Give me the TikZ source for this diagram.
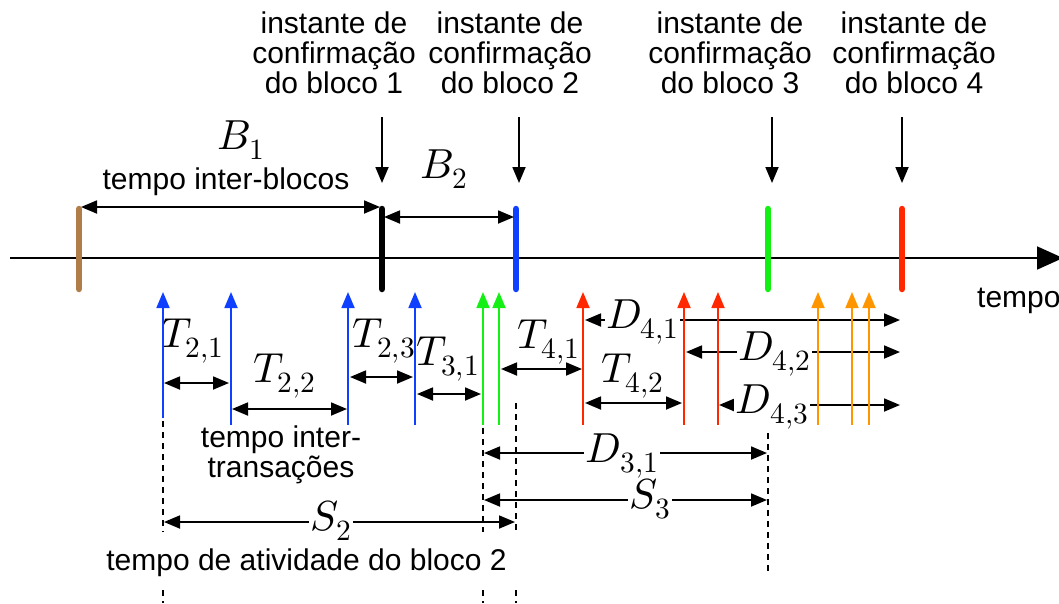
\documentclass[tikz,border=0pt]{standalone}
\usepackage{fontspec}
\usepackage{unicode-math}
\setmainfont{Liberation Sans}
\setmathfont{Latin Modern Math}
\usetikzlibrary{arrows.meta}

\definecolor{bbrown}{RGB}{176,125,72}
\definecolor{bblue}{RGB}{16,64,255}
\definecolor{bgreen}{RGB}{20,240,20}
\definecolor{bred}{RGB}{255,40,0}
\definecolor{borange}{RGB}{255,150,0}

\begin{document}
\begin{tikzpicture}[x=1pt,y=-1pt,
  >={Triangle[length=16pt,width=13pt]},
  txt/.style={font=\fontsize{30}{30}\selectfont, inner sep=0pt},
  lbl/.style={font=\fontsize{42}{46}\selectfont, inner sep=0pt, anchor=base},
  cut/.style={lbl, fill=white, inner xsep=1.5pt},
  dim/.style={<->, line width=1.8pt},
  arr/.style={->, line width=1.8pt},
  blockbar/.style={line width=6.5pt, line cap=round},
  guide/.style={dash pattern=on 6pt off 5pt, line width=1.5pt}
]
\useasboundingbox (0,0) rectangle (1059,603);

% time axis
\coordinate (ax0) at (10,258);
\coordinate (ax1) at (1063,258);
\draw[line width=1.8pt, -{Triangle[length=26pt,width=23pt]}] (ax0) -- (ax1);
\node[txt, anchor=base west] (tempo) at (977,307) {tempo};

% block confirmation marks
\draw[blockbar, bbrown] (79,209) coordinate (b0t) -- (79,289) coordinate (b0);
\draw[blockbar, black]  (382,209) coordinate (b1t) -- (382,289) coordinate (b1);
\draw[blockbar, bblue]  (516,209) coordinate (b2t) -- (516,289) coordinate (b2);
\draw[blockbar, bgreen] (768,209) coordinate (b3t) -- (768,289) coordinate (b3);
\draw[blockbar, bred]   (902,209) coordinate (b4t) -- (902,289) coordinate (b4);

% confirmation labels
\node[txt, anchor=north, align=center] (c1) at (334,11.5) {instante de\\confirmação\\do bloco 1};
\node[txt, anchor=north, align=center] (c2) at (510,11.5) {instante de\\confirmação\\do bloco 2};
\node[txt, anchor=north, align=center] (c3) at (730,11.5) {instante de\\confirmação\\do bloco 3};
\node[txt, anchor=north, align=center] (c4) at (914,11.5) {instante de\\confirmação\\do bloco 4};
\draw[arr] (382,117) -- (382,183);
\draw[arr] (519,117) -- (519,183);
\draw[arr] (772,117) -- (772,183);
\draw[arr] (902,117) -- (902,183);

% inter-block times
\draw[dim] (81,207) -- (380,207);
\node[lbl] (B1) at (241,149) {$B_1$};
\node[txt, anchor=base] (ib) at (226,189) {tempo inter-blocos};
\draw[dim] (384,217) -- (514,217);
\node[lbl] (B2) at (444,178) {$B_2$};

% guide lines
\draw[guide] (163,421) -- (163,532);
\draw[guide] (163,590) -- (163,603);
\draw[guide] (483,428) -- (483,532);
\draw[guide] (483,590) -- (483,603);
\draw[guide] (516,403) -- (516,532);
\draw[guide] (516,590) -- (516,603);
\draw[guide] (768,433) -- (768,572);

% inter-transaction times
\draw[dim] (164,383) -- (229,383);
\node[lbl] (T21) at (192.5,347) {$T_{2,1}$};
\draw[dim] (232,409) -- (347,409);
\node[lbl] (T22) at (284.5,382) {$T_{2,2}$};
\draw[dim] (350,377) -- (413,377);
\node[lbl] (T23) at (384,347) {$T_{2,3}$};
\draw[dim] (417,394) -- (481,394);
\node[lbl] (T31) at (448,365) {$T_{3,1}$};
\draw[dim] (501,369) -- (582,369);
\node[lbl] (T41) at (548.5,348) {$T_{4,1}$};
\draw[dim] (585,403) -- (682,403);
\node[lbl] (T42) at (632.5,382) {$T_{4,2}$};
\node[txt, anchor=north, align=center] (itx) at (281,425.5) {tempo inter-\\transações};

% delays until inclusion
\draw[dim] (585,320) -- (900,320);
\node[cut] (D41) at (642.5,328) {$D_{4,1}$};
\draw[dim] (686,352) -- (900,352);
\node[cut] (D42) at (774.5,360) {$D_{4,2}$};
\draw[dim] (719,405) -- (900,405);
\node[cut] (D43) at (772,413) {$D_{4,3}$};
\draw[dim] (484,453) -- (767,453);
\node[cut] (D31) at (622,462) {$D_{3,1}$};

% block activity times
\draw[dim] (484,500) -- (767,500);
\node[cut] (S3) at (650,508) {$S_3$};
\draw[dim] (164,522) -- (515,522);
\node[cut] (S2) at (331,530) {$S_2$};
\node[txt, anchor=base] (act) at (306.5,570) {tempo de atividade do bloco 2};

% transactions, coloured by the block that includes them
\foreach \x/\y in {163/418, 231/425, 348/425, 415/425}
  \draw[arr, bblue] (\x,\y) -- (\x,292);
\foreach \x in {483, 499}
  \draw[arr, bgreen] (\x,425) -- (\x,292);
\foreach \x in {583, 684, 718}
  \draw[arr, bred] (\x,425) -- (\x,292);
\foreach \x in {818, 852, 869}
  \draw[arr, borange] (\x,425) -- (\x,292);
\end{tikzpicture}
\end{document}
